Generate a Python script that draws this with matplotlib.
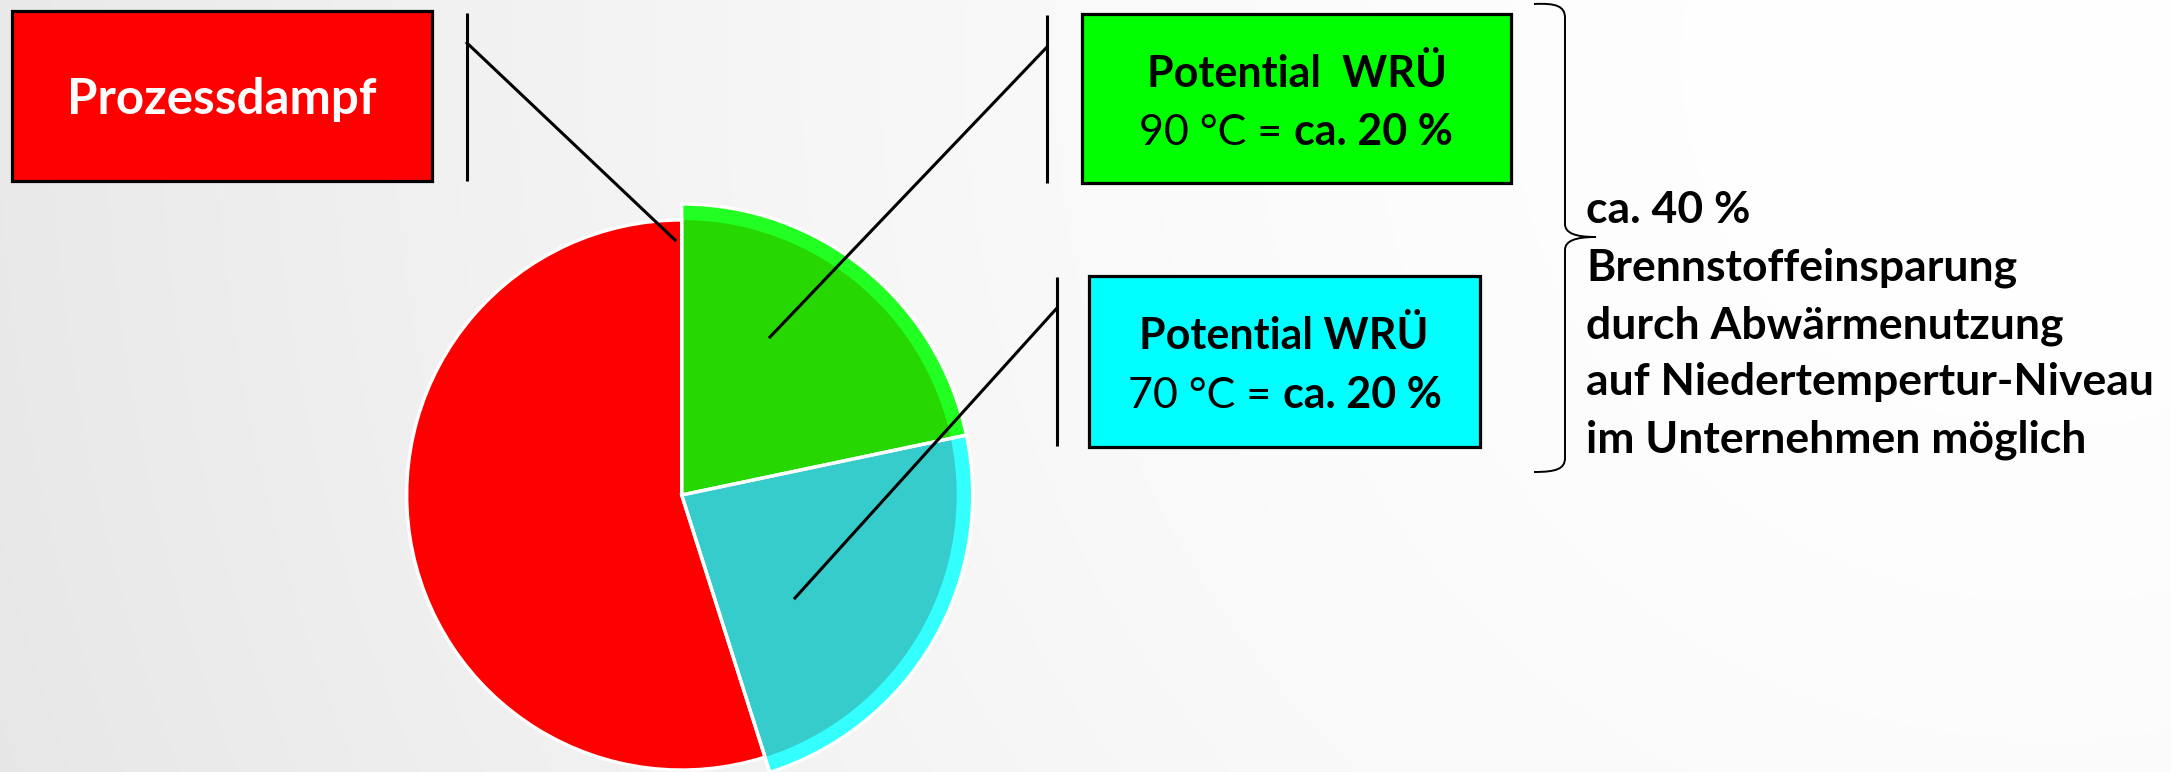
import numpy as np
import matplotlib
matplotlib.use("Agg")
import matplotlib.pyplot as plt
from matplotlib.patches import Rectangle, PathPatch
from matplotlib.path import Path

# ---- data -------------------------------------------------------------
# Shares of the fuel energy, clockwise from 12 o'clock
slice_names = ["Potential WRÜ 90 °C", "Potential WRÜ 70 °C", "Prozessdampf"]
slice_shares = [21.7, 23.4, 54.9]

box_titles = ["Prozessdampf", "Potential  WRÜ", "Potential WRÜ"]
box_temps = ["", "90 °C =", "70 °C ="]
box_values = ["", "ca. 20 %", "ca. 20 %"]

summary_lines = [
    "ca. 40 %",
    "Brennstoffeinsparung",
    "durch Abwärmenutzung",
    "auf Niedertempertur-Niveau",
    "im Unternehmen möglich",
]

# ---- styling ----------------------------------------------------------
rim_colors = ["#22FF22", "#33FFFF", "none"]
core_colors = ["#26D800", "#36CCCC", "#FF0000"]
box_colors = ["#FF0000", "#00FF00", "#00FFFF"]

W, H, DPI = 2171, 772, 100
plt.rcParams["font.family"] = ["Lato", "DejaVu Sans"]

fig = plt.figure(figsize=(W / DPI, H / DPI), dpi=DPI)
ax = fig.add_axes([0, 0, 1, 1])

# soft radial background, white towards the upper right
yy, xx = np.mgrid[0:H, 0:W]
dist = np.hypot(xx - 2050, yy - 60)
shade = (255 - 27 * (dist / 2300) ** 1.8) / 255
bg = np.dstack([shade, shade, shade])
ax.imshow(bg, extent=(0, W, H, 0), zorder=0, interpolation="bilinear")

# ---- pie --------------------------------------------------------------
center = (681.7, 495)
r_core, r_rim = 275, 291
# y axis points down, so startangle -90 is the top and ccw turns clockwise
pie_kw = dict(startangle=-90, counterclock=True, center=center, frame=True)

rim, _ = ax.pie(slice_shares, radius=r_rim, colors=["w"] * 3,
                wedgeprops=dict(linewidth=0), **pie_kw)
for w, c in zip(rim, rim_colors):
    w.set_facecolor(c)
    w.set_zorder(2)
core, _ = ax.pie(slice_shares, radius=r_core, colors=core_colors,
                 wedgeprops=dict(linewidth=0), **pie_kw)
for w in core:
    w.set_zorder(3)
# white outlines: outer ring for the two potentials, core for the rest
outl_rim, _ = ax.pie(slice_shares, radius=r_rim, colors=["none"] * 3,
                     wedgeprops=dict(linewidth=2.4, edgecolor="white"), **pie_kw)
outl_core, _ = ax.pie(slice_shares, radius=r_core, colors=["none"] * 3,
                      wedgeprops=dict(linewidth=2.4, edgecolor="white"), **pie_kw)
for w in outl_rim:
    w.set_zorder(4)
outl_rim[2].set_visible(False)
for i, w in enumerate(outl_core):
    w.set_zorder(4)
    if i < 2:
        w.set_visible(False)

# ---- label boxes ------------------------------------------------------
boxes = [(12, 11, 432, 181), (1082, 14, 1511, 183), (1089, 276, 1480, 447)]
for (x0, y0, x1, y1), fc in zip(boxes, box_colors):
    ax.add_patch(Rectangle((x0, y0), x1 - x0, y1 - y0, facecolor=fc,
                           edgecolor="black", linewidth=2.3, zorder=5))

renderer = fig.canvas.get_renderer()


def text_width(artist):
    return artist.get_window_extent(renderer=renderer).width


def centered_line(cx, y, parts, size, color="black"):
    """Draw a line made of (text, weight) parts centred on cx."""
    arts = [ax.text(0, y, s, fontsize=size, fontweight=wt, ha="left",
                    va="baseline", color=color, zorder=6) for s, wt in parts]
    probe = ax.text(0, 0, "x x", fontsize=size)
    probe2 = ax.text(0, 0, "xx", fontsize=size)
    gap = text_width(probe) - text_width(probe2)
    probe.remove()
    probe2.remove()
    widths = [text_width(a) for a in arts]
    total = sum(widths) + gap * (len(arts) - 1)
    x = cx - total / 2
    for a, w in zip(arts, widths):
        a.set_x(x)
        x += w + gap


# red box
centered_line(222, 114, [(box_titles[0], "bold")], 35.5, color="white")
# green box
centered_line(1297, 87, [(box_titles[1], "bold")], 31)
centered_line(1296, 145, [(box_temps[1], "normal"), (box_values[1], "bold")], 31)
# cyan box
centered_line(1284, 349, [(box_titles[2], "bold")], 31)
centered_line(1285, 408, [(box_temps[2], "normal"), (box_values[2], "bold")], 31)

# ---- leader lines -----------------------------------------------------
leaders = [
    (467, 13, 181, 43, (675, 240)),
    (1047, 15, 183, 47, (770, 337)),
    (1057, 277, 446, 308, (795, 598)),
]
for x, ya, yb, yk, (px, py) in leaders:
    ax.plot([x, x], [ya, yb], color="black", lw=2.2, zorder=7,
            solid_capstyle="butt")
    ax.plot([x, px], [yk, py], color="black", lw=2.2, zorder=7)

# ---- brace and summary ------------------------------------------------
verts = [
    (1534, 4), (1556, 3), (1565, 6), (1565, 18),
    (1565, 224),
    (1565, 233), (1575, 237), (1596, 237),
    (1575, 237), (1565, 241), (1565, 250),
    (1565, 458),
    (1565, 469), (1556, 472), (1534, 472),
]
codes = ([Path.MOVETO] + [Path.CURVE4] * 3 + [Path.LINETO]
         + [Path.CURVE4] * 6 + [Path.LINETO] + [Path.CURVE4] * 3)
ax.add_patch(PathPatch(Path(verts, codes), facecolor="none",
                       edgecolor="black", lw=1.4, zorder=7))

baselines = [223, 280.5, 338, 395.5, 453]
for s, yb in zip(summary_lines, baselines):
    ax.text(1586, yb, s, fontsize=32, fontweight="bold", ha="left",
            va="baseline", color="black", zorder=6)

ax.set_xlim(0, W)
ax.set_ylim(H, 0)
ax.set_aspect("auto")
ax.set_axis_off()

fig.savefig("out.png", dpi=DPI)
